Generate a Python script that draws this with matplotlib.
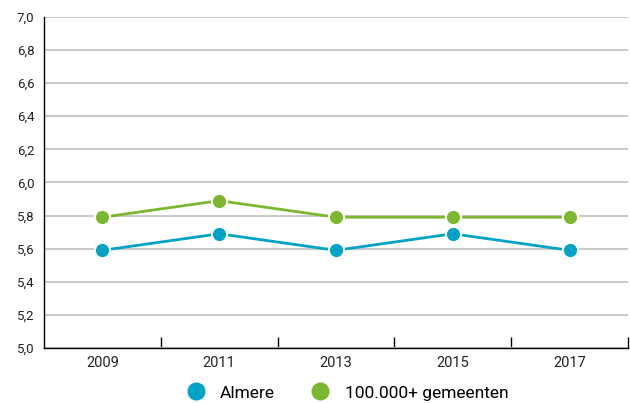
import matplotlib.pyplot as plt
import numpy as np
from matplotlib.lines import Line2D

plt.rcParams['font.family'] = ['Roboto', 'DejaVu Sans']

# Data
years = ["2009", "2011", "2013", "2015", "2017"]
almere = [5.59, 5.69, 5.59, 5.69, 5.59]
gemeenten = [5.79, 5.89, 5.79, 5.79, 5.79]

blue = '#00a3c6'
green = '#7cb82f'

fig = plt.figure(figsize=(6.3, 4.03), dpi=100)
ax = fig.add_axes([0.0698, 0.1365, 0.927, 0.8215])

x = np.arange(len(years))
ax.plot(x, gemeenten, color=green, lw=2, marker='o', ms=11,
        mec='white', mew=1.5, zorder=3)
ax.plot(x, almere, color=blue, lw=2, marker='o', ms=11,
        mec='white', mew=1.5, zorder=3)

ax.set_xlim(-0.5, 4.5)
ax.set_ylim(5.0, 7.0)
yt = np.arange(5.0, 7.01, 0.2)
ax.set_yticks(yt)
ax.set_yticklabels([f"{v:.1f}".replace('.', ',') for v in yt], fontsize=9.5, color='#222222')
ax.set_xticks(x)
ax.set_xticklabels(years, fontsize=10.5, color='#222222')
ax.set_xticks(np.arange(0.5, 4.6, 1), minor=True)
ax.tick_params(axis='x', which='major', length=0, pad=6)
ax.tick_params(axis='x', which='minor', direction='in', length=8, width=1, color='black')
ax.tick_params(axis='y', length=0, pad=7)

ax.grid(axis='y', color='#cacaca', lw=1.5, zorder=0)
ax.set_axisbelow(True)
for s in ['top', 'right']:
    ax.spines[s].set_visible(False)
ax.spines['left'].set_color('black')
ax.spines['bottom'].set_color('black')
ax.spines['left'].set_linewidth(1)
ax.spines['bottom'].set_linewidth(1)

handles = [Line2D([], [], ls='none', marker='o', ms=12, color=blue, label='Almere'),
           Line2D([], [], ls='none', marker='o', ms=12, color=green, label='100.000+ gemeenten')]
fig.legend(handles=handles, loc='center', bbox_to_anchor=(0.545, 0.025), ncol=2,
           frameon=False, fontsize=12.5, handletextpad=0.4, columnspacing=1.6)

plt.savefig('out.png', dpi=100)
